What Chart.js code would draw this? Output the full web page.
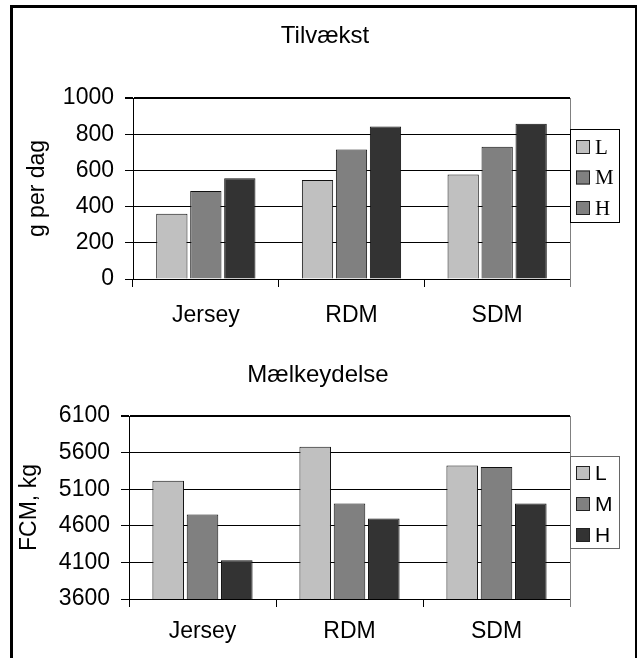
<!DOCTYPE html>
<html>
<head>
<meta charset="utf-8">
<script src="https://cdn.jsdelivr.net/npm/chart.js@4/dist/chart.umd.min.js"></script>
<style>
  body { margin: 0; background: #fff; }
  #page { position: relative; width: 638px; height: 658px; overflow: hidden; }
  #frame { position: absolute; left: 10px; top: 5px; width: 622px; height: 700px;
           border-left: 3px solid #000; border-top: 3px solid #000; border-right: 2px solid #000;
           pointer-events: none; }
  canvas { position: absolute; left: 0; }
</style>
</head>
<body>
<div id="page">
  <canvas id="gain" width="638" height="330" style="top:0"></canvas>
  <canvas id="milk" width="638" height="328" style="top:330px"></canvas>
  <div id="frame"></div>
</div>
<script>
// data
const breeds = ['Jersey', 'RDM', 'SDM'];
const levels = ['L', 'M', 'H'];
const gainL = [361, 547, 578];
const gainM = [486, 716, 731];
const gainH = [556, 843, 858];
const gainTicks = [0, 200, 400, 600, 800, 1000];
const milkL = [5215, 5680, 5425];
const milkM = [4755, 4905, 5402];
const milkH = [4129, 4700, 4905];
const milkTicks = [3600, 4100, 4600, 5100, 5600, 6100];

const fills = ['#c0c0c0', '#808080', '#333333'];
const SANS = 'Liberation Sans, Arial, sans-serif';
Chart.defaults.font.family = SANS;
Chart.defaults.color = '#000';

// legend drawn as a framed box next to the plot
const boxLegend = {
  id: 'boxLegend',
  afterDraw(chart, args, o) {
    const ctx = chart.ctx;
    ctx.save();
    ctx.lineWidth = 1;
    ctx.fillStyle = '#fff';
    ctx.fillRect(o.x, o.y, o.w, o.h);
    ctx.strokeStyle = o.border;
    ctx.strokeRect(o.x + 0.5, o.y + 0.5, o.w, o.h);
    ctx.font = o.font;
    ctx.textBaseline = 'middle';
    o.labels.forEach((t, i) => {
      const cy = o.y + o.first + i * o.step;
      ctx.fillStyle = o.colors[i];
      ctx.fillRect(o.x + 6, cy - 7, 14, 14);
      ctx.strokeStyle = '#222';
      ctx.strokeRect(o.x + 6.5, cy - 6.5, 13, 13);
      ctx.fillStyle = '#000';
      ctx.fillText(t, o.x + 25, cy + 1);
    });
    ctx.restore();
  }
};

// grey right edge of the plot area
const rightEdge = {
  id: 'rightEdge',
  afterDatasetsDraw(chart) {
    const a = chart.chartArea, ctx = chart.ctx;
    ctx.save();
    ctx.strokeStyle = '#808080';
    ctx.lineWidth = 1;
    ctx.beginPath();
    ctx.moveTo(Math.round(a.right) + 0.5, a.top);
    ctx.lineTo(Math.round(a.right) + 0.5, a.bottom + 8);
    ctx.stroke();
    ctx.restore();
  }
};

function makeChart(id, cfg) {
  const top = cfg.ticks[cfg.ticks.length - 1];
  return new Chart(document.getElementById(id), {
    type: 'bar',
    data: {
      labels: breeds,
      datasets: cfg.series.map((d, i) => ({
        label: levels[i], data: d,
        backgroundColor: fills[i], borderColor: '#111', borderWidth: 1,
        categoryPercentage: 0.70, barPercentage: 0.92
      }))
    },
    options: {
      responsive: false,
      animation: false,
      devicePixelRatio: 1,
      layout: { padding: { left: 14, right: cfg.padRight, top: 0, bottom: 0 } },
      plugins: {
        legend: { display: false },
        tooltip: { enabled: false },
        title: {
          display: true, text: cfg.title, color: '#000',
          font: { size: 24, weight: 'normal' },
          padding: cfg.titlePad
        },
        boxLegend: cfg.legend
      },
      scales: {
        x: {
          grid: { offset: true, drawOnChartArea: false, tickLength: 8, color: '#000' },
          border: { color: '#000' },
          ticks: { font: { size: 23 }, color: '#000', padding: cfg.xPad },
          afterFit: s => { s.height = cfg.xHeight; }
        },
        y: {
          min: cfg.ticks[0], max: top,
          afterBuildTicks: s => { s.ticks = cfg.ticks.map(v => ({ value: v })); },
          ticks: { font: { size: 23 }, color: '#000', padding: 11, callback: v => String(v) },
          grid: { color: '#000', tickLength: 8, lineWidth: c => (c.tick && c.tick.value === top) ? 2 : 1 },
          border: { color: '#000' },
          title: {
            display: true, text: cfg.yTitle, color: '#000',
            font: { size: 23 }, padding: { top: cfg.yTitlePad, bottom: 0 }
          },
          afterFit: s => { s.width = cfg.yWidth; }
        },
        y2: {
          position: 'right',
          grid: { display: false }, border: { display: false },
          ticks: { display: false },
          afterFit: s => { s.width = cfg.rightWidth; }
        }
      }
    },
    plugins: [boxLegend, rightEdge]
  });
}

makeChart('gain', {
  title: 'Tilvækst',
  yTitle: 'g per dag',
  series: [gainL, gainM, gainH],
  ticks: gainTicks,
  titlePad: { top: 22, bottom: 47.2 },
  xHeight: 51, xPad: 15,
  yWidth: 119, yTitlePad: 10,
  padRight: 2, rightWidth: 66,
  legend: {
    x: 570, y: 129, w: 49, h: 93, first: 18, step: 30.5, border: '#000',
    font: '21px "Liberation Serif", "Times New Roman", serif',
    labels: levels, colors: ['#c0c0c0', '#808080', '#808080']
  }
});

makeChart('milk', {
  title: 'Mælkeydelse',
  yTitle: 'FCM, kg',
  series: [milkL, milkM, milkH],
  ticks: milkTicks,
  titlePad: { top: 31, bottom: 26.2 },
  xHeight: 59, xPad: 11,
  yWidth: 115, yTitlePad: 2,
  padRight: 16, rightWidth: 52,
  legend: {
    x: 570, y: 126, w: 49, h: 92, first: 17, step: 31, border: '#666',
    font: '21px "Liberation Sans", Arial, sans-serif',
    labels: levels, colors: fills
  }
});
</script>
</body>
</html>
